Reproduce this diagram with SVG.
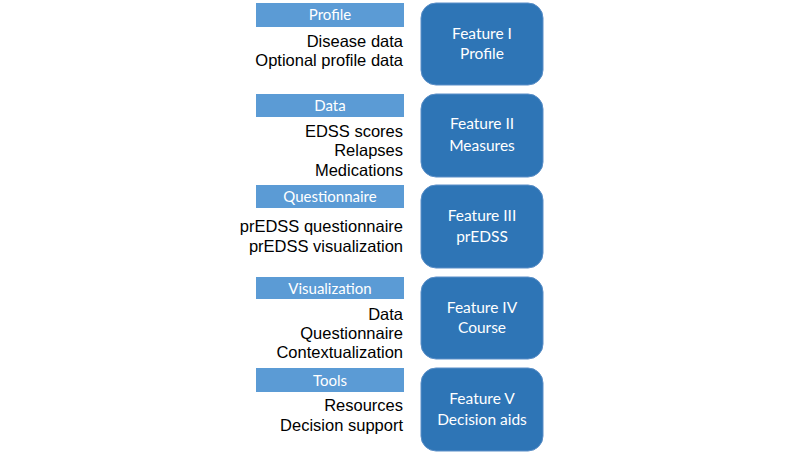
<svg xmlns="http://www.w3.org/2000/svg" width="800" height="455" viewBox="0 0 800 455">
<style>
.bar{fill:#5B9BD5}
.box{fill:#2E75B6;stroke:#5B8FC8;stroke-width:1}
.bt{font-family:Lato,"Open Sans",sans-serif;font-size:15px;fill:#fff;text-anchor:middle}
.ft{font-family:Lato,"Open Sans",sans-serif;font-size:15.5px;fill:#fff;text-anchor:middle}
.it{font-family:"Liberation Sans",Arial,sans-serif;font-size:16.5px;fill:#000;text-anchor:end}
</style>
<rect width="800" height="455" fill="#fff"/>
<g id="connectors"></g>
<g id="feature1">
<rect class="bar" x="256" y="3" width="148" height="24"/>
<text class="bt" x="330" y="20">Profile</text>
<text class="it" x="403" y="47">Disease data</text>
<text class="it" x="403" y="66">Optional profile data</text>
<rect class="box" x="421" y="3" width="122" height="82" rx="15"/>
<text class="ft" x="482" y="39">Feature I</text>
<text class="ft" x="482" y="59">Profile</text>
</g>
<g id="feature2">
<rect class="bar" x="256" y="94" width="148" height="23"/>
<text class="bt" x="330" y="111">Data</text>
<text class="it" x="403" y="137">EDSS scores</text>
<text class="it" x="403" y="156">Relapses</text>
<text class="it" x="403" y="176">Medications</text>
<rect class="box" x="421" y="94" width="122" height="83" rx="15"/>
<text class="ft" x="482" y="129">Feature II</text>
<text class="ft" x="482" y="151">Measures</text>
</g>
<g id="feature3">
<rect class="bar" x="256" y="185" width="148" height="23"/>
<text class="bt" x="330" y="202">Questionnaire</text>
<text class="it" x="403" y="232">prEDSS questionnaire</text>
<text class="it" x="403" y="252">prEDSS visualization</text>
<rect class="box" x="421" y="185" width="122" height="83" rx="15"/>
<text class="ft" x="482" y="221">Feature III</text>
<text class="ft" x="482" y="242">prEDSS</text>
</g>
<g id="feature4">
<rect class="bar" x="256" y="277" width="148" height="22"/>
<text class="bt" x="330" y="294">Visualization</text>
<text class="it" x="403" y="320">Data</text>
<text class="it" x="403" y="339">Questionnaire</text>
<text class="it" x="403" y="358">Contextualization</text>
<rect class="box" x="421" y="277" width="122" height="82" rx="15"/>
<text class="ft" x="482" y="313">Feature IV</text>
<text class="ft" x="482" y="333">Course</text>
</g>
<g id="feature5">
<rect class="bar" x="256" y="368" width="148" height="24"/>
<text class="bt" x="330" y="386">Tools</text>
<text class="it" x="403" y="411">Resources</text>
<text class="it" x="403" y="431">Decision support</text>
<rect class="box" x="421" y="368" width="122" height="83" rx="15"/>
<text class="ft" x="482" y="404">Feature V</text>
<text class="ft" x="482" y="425">Decision aids</text>
</g>
</svg>
